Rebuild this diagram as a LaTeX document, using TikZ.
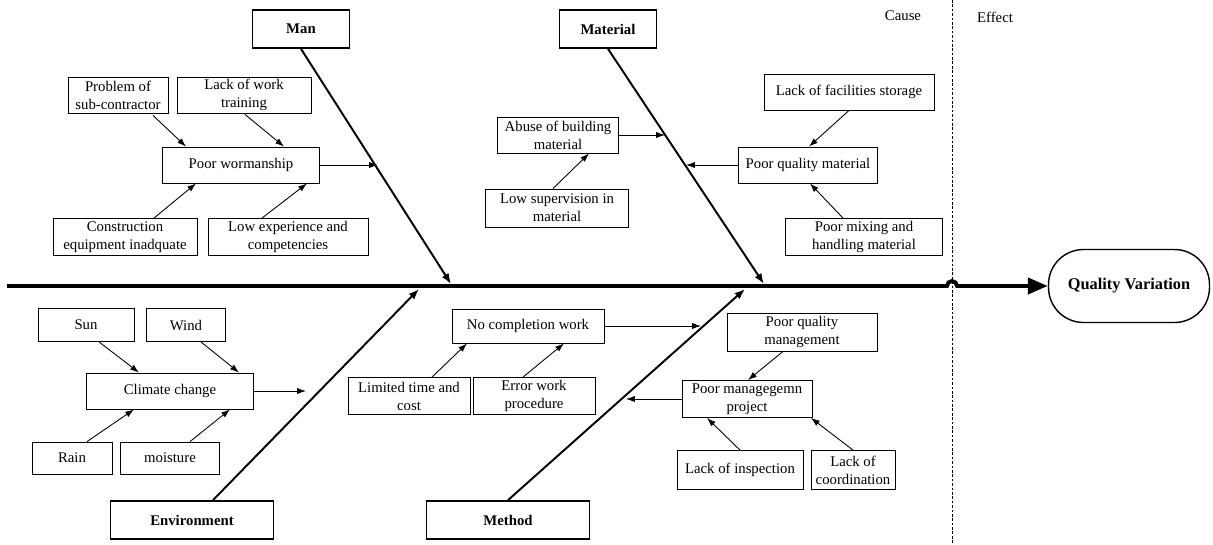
\documentclass[tikz,border=0pt]{standalone}
\usepackage{fontspec}
\setmainfont{Liberation Serif}
\usetikzlibrary{arrows.meta,calc}

\begin{document}
\begin{tikzpicture}[x=0.02cm,y=-0.02cm,font=\fontsize{8.4}{10.2}\selectfont,
  cat_node/.style={draw,line width=1pt,font=\fontsize{8.4}{10.2}\selectfont\bfseries,minimum height=0.76cm,inner sep=1pt},
  sub_node/.style={draw,line width=0.5pt,align=center,inner sep=1pt,minimum height=0.72cm},
  bone/.style={line width=1.1pt,-{Latex[length=6pt,width=4.5pt]}},
  link/.style={line width=0.5pt,-{Latex[length=5pt,width=3.5pt]}}]

  \useasboundingbox (0,0) rectangle (1213,544);

  % categories
  \node[cat_node,minimum width=1.94cm] (man) at (301,29) {Man};
  \node[cat_node,minimum width=1.94cm] (mat) at (608,29) {Material};
  \node[cat_node,minimum width=3.26cm] (env) at (192,520) {Environment};
  \node[cat_node,minimum width=3.26cm] (meth) at (508,520) {Method};

  % effect
  \node[draw,line width=0.8pt,rounded corners=0.7cm,minimum width=3.22cm,minimum height=1.46cm,
        font=\fontsize{9.3}{11}\selectfont\bfseries] (qv) at (1129,286) {Quality Variation};
  \node (cause) at (903,16) {Cause};
  \node (effect) at (995,17) {Effect};
  \coordinate (d1) at (952,0);
  \coordinate (d2) at (952,544);
  \draw[line width=0.5pt,dash pattern=on 1.5pt off 1pt] (d1) -- (d2);

  % spine
  \coordinate (s0) at (7,286);
  \coordinate (h0) at (947,286);
  \draw[line width=2.2pt,-{Triangle[length=0.4cm,width=0.32cm]}]
    (s0) -- (h0) arc[start angle=180,end angle=0,radius=0.1cm] -- (qv.west);

  % bones
  \coordinate (e1) at (451,284);
  \coordinate (e2) at (764,284);
  \coordinate (e3) at (419,289);
  \coordinate (e4) at (745,289);
  \draw[bone] (man.south) -- (e1);
  \draw[bone] (mat.south) -- (e2);
  \draw[bone] ($(env.north)+(21,0)$) -- (e3);
  \draw[bone] (meth.north) -- (e4);

  % man
  \node[sub_node,minimum width=2cm] (prob) at (118,95) {Problem of\\sub-contractor};
  \node[sub_node,minimum width=2.68cm] (work) at (244,95) {Lack of work\\training};
  \node[sub_node,minimum width=3.14cm] (poorw) at (241,165) {Poor wormanship};
  \node[sub_node,minimum width=2.88cm,minimum height=0.74cm] (cons) at (125,237) {Construction\\equipment inadquate};
  \node[sub_node,minimum width=3.2cm,minimum height=0.74cm] (lowexp) at (288,237) {Low experience and\\competencies};
  \coordinate (a1) at (378,165);
  \draw[link] ($(prob.south)+(35,2)$) -- ($(poorw.north)+(-55,0)$);
  \draw[link] ($(work.south)+(1,1)$) -- ($(poorw.north)+(43,0)$);
  \draw[link] ($(cons.north)+(29,0)$) -- ($(poorw.south)+(-45,0)$);
  \draw[link] ($(lowexp.north)+(-26,0)$) -- ($(poorw.south)+(66,0)$);
  \draw[link] (poorw.east) -- (a1);

  % material
  \node[sub_node,minimum width=2.42cm] (abuse) at (558,135) {Abuse of building\\material};
  \node[sub_node,minimum width=2.86cm,minimum height=0.76cm] (lowsup) at (557,208) {Low supervision in\\material};
  \node[sub_node,minimum width=2.78cm] (pqm) at (808,165) {Poor quality material};
  \node[sub_node,minimum width=3.4cm] (lfs) at (849,92) {Lack of facilities storage};
  \node[sub_node,minimum width=3.14cm,minimum height=0.74cm] (pmh) at (864,237) {Poor mixing and\\handling material};
  \coordinate (a2) at (665,135);
  \coordinate (a3) at (686,165);
  \draw[link] ($(lowsup.north)+(-4,0)$) -- ($(abuse.south)+(31,0)$);
  \draw[link] (abuse.east) -- (a2);
  \draw[link] (pqm.west) -- (a3);
  \draw[link] (lfs.south) -- ($(pqm.north)+(1,0)$);
  \draw[link] ($(pmh.north)+(-21,0)$) -- ($(pqm.south)+(2,0)$);

  % environment
  \node[sub_node,minimum width=1.92cm,minimum height=0.66cm] (sun) at (86,325) {Sun};
  \node[sub_node,minimum width=1.58cm,minimum height=0.66cm] (wind) at (186,325) {Wind};
  \node[sub_node,minimum width=3.34cm] (clim) at (170,391) {Climate change};
  \node[sub_node,minimum width=1.6cm,minimum height=0.64cm] (rain) at (72,458) {Rain};
  \node[sub_node,minimum width=1.98cm,minimum height=0.64cm] (moist) at (170,458) {moisture};
  \coordinate (a4) at (306,391);
  \draw[link] ($(sun.south)+(13,0)$) -- ($(clim.north)+(-31,0)$);
  \draw[link] ($(wind.south)+(15,0)$) -- ($(clim.north)+(69,0)$);
  \draw[link] ($(rain.north)+(15,0)$) -- ($(clim.south)+(-36,0)$);
  \draw[link] ($(moist.north)+(20,0)$) -- ($(clim.south)+(60,0)$);
  \draw[link] (clim.east) -- (a4);

  % method
  \node[sub_node,minimum width=3.04cm,minimum height=0.68cm] (ncw) at (528,326) {No completion work};
  \node[sub_node,minimum width=2.44cm,minimum height=0.74cm] (lim) at (409,396) {Limited time and\\cost};
  \node[sub_node,minimum width=2.44cm,minimum height=0.74cm] (err) at (534,396) {Error work\\procedure};
  \node[sub_node,minimum width=3cm,minimum height=0.76cm] (pqmg) at (802,332) {Poor quality\\management};
  \node[sub_node,minimum width=2.6cm,minimum height=0.74cm] (pmp) at (747,399) {Poor managegemn\\project};
  \node[sub_node,minimum width=2.52cm,minimum height=0.78cm] (insp) at (740,470) {Lack of inspection};
  \node[sub_node,minimum width=1.68cm,minimum height=0.78cm] (coord) at (853,470) {Lack of\\coordination};
  \coordinate (a5) at (701,326);
  \coordinate (a6) at (626,399);
  \draw[link] ($(lim.north)+(23,0)$) -- ($(ncw.south)+(-61,0)$);
  \draw[link] ($(err.north)+(-11,0)$) -- ($(ncw.south)+(36,0)$);
  \draw[link] (ncw.east) -- (a5);
  \draw[link] ($(pqmg.south)+(-19,0)$) -- ($(pmp.north)+(1,0)$);
  \draw[link] (pmp.west) -- (a6);
  \draw[link] (insp.north) -- ($(pmp.south)+(-40,0)$);
  \draw[link] (coord.north) -- ($(pmp.south)+(64,0)$);

\end{tikzpicture}
\end{document}
